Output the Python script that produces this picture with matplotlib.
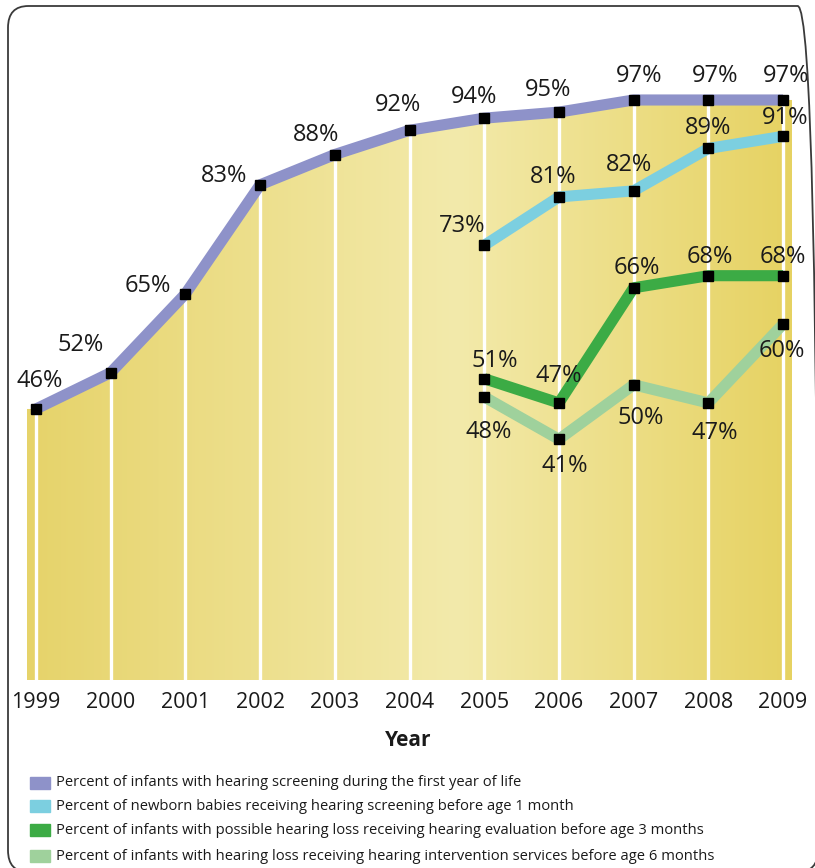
import numpy as np
import matplotlib
matplotlib.use('Agg')
import matplotlib.pyplot as plt
from matplotlib.colors import LinearSegmentedColormap
from matplotlib.patches import FancyBboxPatch, Rectangle

plt.rcParams['font.family'] = ['Open Sans', 'DejaVu Sans']

# data
years = np.arange(1999, 2010)
screen_first_year = [46, 52, 65, 83, 88, 92, 94, 95, 97, 97, 97]
recent_years = np.arange(2005, 2010)
screen_1_month = [73, 81, 82, 89, 91]
eval_3_months = [51, 47, 66, 68, 68]
intervention_6_months = [48, 41, 50, 47, 60]

legend_labels = [
    'Percent of infants with hearing screening during the first year of life',
    'Percent of newborn babies receiving hearing screening before age 1 month',
    'Percent of infants with possible hearing loss receiving hearing evaluation before age 3 months',
    'Percent of infants with hearing loss receiving hearing intervention services before age 6 months',
]
colors = ['#8e92c9', '#7ccfe0', '#3cab45', '#9fd19c']

# label offsets in pixels (dx right, dy down) relative to each point
off_first = [(4, -28), (-30, -28), (-38, -8), (-36, -9), (-19, -20), (-11, -25),
             (-10, -21), (-11, -22), (6, -24), (7, -24), (3, -24)]
off_1m = [(-22, -19), (-6, -20), (-5, -26), (0, -20), (2, -18)]
off_3m = [(11, -18), (0, -27), (3, -20), (1, -19), (0, -19)]
off_6m = [(4, 35), (6, 27), (7, 33), (6, 30), (-1, 27)]

W, H = 815, 868
fig = plt.figure(figsize=(W / 100, H / 100), dpi=100)
ax = fig.add_axes([27 / W, (H - 680) / H, 765 / W, 640 / H])
x0, x1 = 1998.88, 2009.12
y0, y1 = 1.27, 106.9

# gradient area under the first-year line
cmap = LinearSegmentedColormap.from_list(
    'sand', [(0, '#e6d36a'), (0.56, '#f3eaab'), (1, '#e6d262')])
grad = np.linspace(0, 1, 256).reshape(1, -1)
im = ax.imshow(grad, cmap=cmap, extent=[x0, x1, y0, y1], aspect='auto', zorder=1)
xs = np.concatenate([[x0], years, [x1]])
vs = np.concatenate([[screen_first_year[0]], screen_first_year, [screen_first_year[-1]]])
poly = ax.fill_between(xs, vs, y0, color='none', lw=0)
im.set_clip_path(poly.get_paths()[0], transform=ax.transData)

ax.vlines(years, y0, screen_first_year, color='white', lw=2.4, zorder=2)

series = [(years, screen_first_year, off_first),
          (recent_years, screen_1_month, off_1m),
          (recent_years, eval_3_months, off_3m),
          (recent_years, intervention_6_months, off_6m)]
for (xv, yv, offs), c in zip(series, colors):
    ax.plot(xv, yv, color=c, lw=8, solid_capstyle='butt', zorder=3)
for (xv, yv, offs), c in zip(series, colors):
    ax.plot(xv, yv, 's', color='black', ms=7, zorder=5)
    for x, y, (dx, dy) in zip(xv, yv, offs):
        ax.annotate(f'{y}%', (x, y), xytext=(dx, -dy), textcoords='offset pixels',
                    ha='center', va='center', fontsize=17, color='#1a1a1a', zorder=6)

ax.set_xlim(x0, x1)
ax.set_ylim(y0, y1)
ax.set_xticks(years)
ax.set_yticks([])
ax.tick_params(axis='x', length=0, pad=9, labelsize=15.5, labelcolor='#1a1a1a')
for s in ax.spines.values():
    s.set_visible(False)

fig.text(408 / W, 1 - 740 / H, 'Year', ha='center', va='center',
         fontsize=15, fontweight='bold', color='#1a1a1a')

# legend
rows = [783, 806, 830, 856]
for lbl, c, r in zip(legend_labels, colors, rows):
    fig.patches.append(Rectangle((30 / W, 1 - (r + 6) / H), 20 / W, 12 / H,
                                 transform=fig.transFigure, color=c))
    fig.text(56 / W, 1 - r / H, lbl, ha='left', va='center', fontsize=10.6, color='#1a1a1a')

# rounded frame (right and bottom edges run off the picture)
fig.patches.append(FancyBboxPatch((8 / W, 1 - 872 / H), 810 / W, 866 / H,
                                  boxstyle='round,pad=0,rounding_size=0.025',
                                  transform=fig.transFigure, fill=False,
                                  ec='#3a3a3a', lw=1.3))

fig.savefig('out.png', dpi=100)
